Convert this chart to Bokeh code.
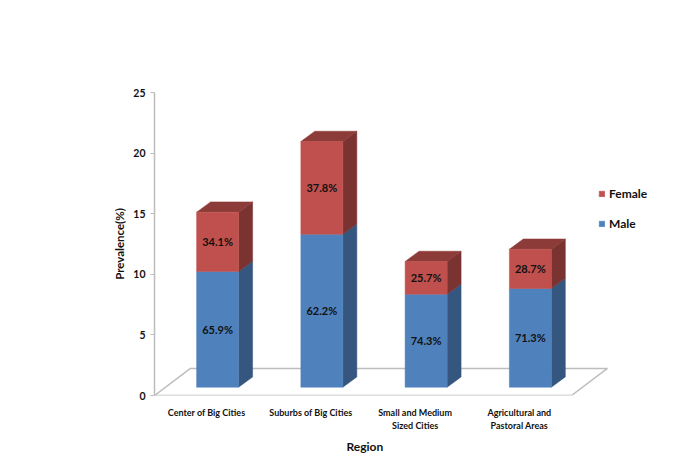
from bokeh.plotting import figure
from bokeh.embed import file_html
from bokeh.resources import INLINE
from bokeh.models import Range1d, Title, Legend, LegendItem, FixedTicker
from bokeh.core.properties import value

categories = ["Center of Big Cities", "Suburbs of Big Cities", "Small and Medium\nSized Cities", "Agricultural and\nPastoral Areas"]
male = [9.55, 12.62, 7.67, 8.14]
female = [4.89, 7.65, 2.70, 3.24]
male_pct = ["65.9%", "62.2%", "74.3%", "71.3%"]
female_pct = ["34.1%", "37.8%", "25.7%", "28.7%"]
y_ticks = [0, 5, 10, 15, 20, 25]

FONT = "Lato"
BLUE, BLUE_SIDE = "#4F81BD", "#34567F"
RED, RED_SIDE, RED_TOP = "#C0504D", "#7B3331", "#8C3B39"
GRID = "#BDBDBD"

# depth geometry in data units
half_w, shift_x, base_y = 0.2015, 0.1055, 0.685
depth_x, depth_y = 0.134, 0.85
floor_dx, floor_dy = 0.345, 2.23
n = len(categories)

p = figure(width=677, height=457, output_backend="svg", toolbar_location=None,
           x_range=Range1d(0, 5.017), y_range=Range1d(0, 25),
           min_border_left=154, min_border_top=92, min_border_bottom=0, min_border_right=0,
           outline_line_color=None, background_fill_color="white", border_fill_color="white")
p.grid.visible = False

# floor
p.patch([0, n, n + floor_dx, floor_dx], [0, 0, floor_dy, floor_dy],
        fill_color="white", line_color=GRID, line_width=1.5)

cx = [i + 0.5 + shift_x for i in range(n)]
left = [c - half_w for c in cx]
right = [c + half_w for c in cx]
base = [base_y] * n
split = [base_y + m for m in male]
top = [s + f for s, f in zip(split, female)]


def side(b, t):
    return ([[r, r + depth_x, r + depth_x, r] for r in right],
            [[a, a + depth_y, c + depth_y, c] for a, c in zip(b, t)])


xs, ys = side(base, split)
p.patches(xs, ys, fill_color=BLUE_SIDE, line_color=BLUE_SIDE, line_width=0.5)
xs, ys = side(split, top)
p.patches(xs, ys, fill_color=RED_SIDE, line_color=RED_SIDE, line_width=0.5)
p.patches([[l, r, r + depth_x, l + depth_x] for l, r in zip(left, right)],
          [[t, t, t + depth_y, t + depth_y] for t in top],
          fill_color=RED_TOP, line_color=RED_TOP, line_width=0.5)
r_male = p.quad(left=left, right=right, bottom=base, top=split, fill_color=BLUE, line_color=BLUE, line_width=0.5)
r_female = p.quad(left=left, right=right, bottom=split, top=top, fill_color=RED, line_color=RED, line_width=0.5)

text_kw = dict(text_font=value(FONT), text_font_style="bold", text_font_size="11px",
               text_color="#111111", text_align="center", text_baseline="middle")
p.text(cx, [(a + b) / 2 for a, b in zip(base, split)], text=male_pct, **text_kw)
p.text(cx, [(a + b) / 2 for a, b in zip(split, top)], text=female_pct, **text_kw)

# axes
yax = p.yaxis[0]
yax.ticker = FixedTicker(ticks=y_ticks)
yax.axis_label = "Prevalence(%)"
yax.axis_label_text_font = FONT
yax.axis_label_text_font_style = "bold"
yax.axis_label_text_font_size = "11.5px"
yax.axis_label_text_color = "#111111"
yax.axis_label_standoff = 4
yax.major_label_text_font = FONT
yax.major_label_text_font_style = "bold"
yax.major_label_text_font_size = "10.5px"
yax.major_label_text_color = "#111111"
yax.major_label_standoff = 5
yax.axis_line_color = GRID
yax.axis_line_width = 1.5
yax.major_tick_line_color = GRID
yax.major_tick_in = 0
yax.major_tick_out = 4
yax.minor_tick_line_color = None

xax = p.xaxis[0]
xax.ticker = FixedTicker(ticks=[i + 0.5 for i in range(n)])
xax.major_label_overrides = {i + 0.5: c for i, c in enumerate(categories)}
xax.major_label_text_font = FONT
xax.major_label_text_font_style = "bold"
xax.major_label_text_font_size = "9px"
xax.major_label_text_color = "#111111"
xax.major_label_standoff = 5
xax.axis_line_color = None
xax.major_tick_line_color = None
xax.minor_tick_line_color = None

p.add_layout(Title(text="Region", align="left", offset=192, standoff=7,
                   text_font=FONT, text_font_style="bold", text_font_size="12px", text_color="#111111"), "below")

legend = Legend(items=[LegendItem(label="Female", renderers=[r_female]),
                       LegendItem(label="Male", renderers=[r_male])],
                location=(444, 164), orientation="vertical", glyph_width=7, glyph_height=7,
                spacing=15, padding=0, margin=0, label_standoff=4,
                label_text_font=FONT, label_text_font_style="bold", label_text_font_size="12px",
                label_text_color="#111111", label_height=7, border_line_color=None,
                background_fill_alpha=0)
p.add_layout(legend)

open("out.html", "w").write(file_html(p, INLINE))
